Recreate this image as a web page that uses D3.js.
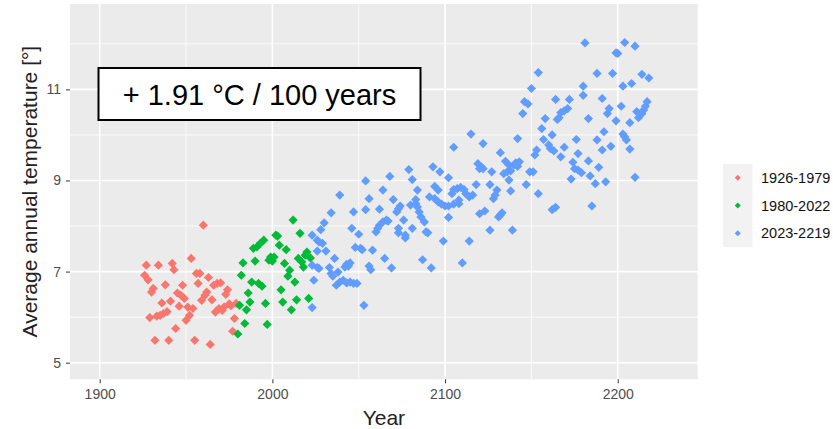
<!DOCTYPE html>
<html>
<head>
<meta charset="utf-8">
<script src="https://cdn.jsdelivr.net/npm/d3@7"></script>
<style>
  html, body { margin: 0; padding: 0; background: #ffffff; }
  svg { display: block; font-family: "Liberation Sans", Arial, sans-serif; }
</style>
</head>
<body>
<svg id="chart" width="833" height="429"></svg>
<script>
// ---------------- data ----------------
const seriesNames = ["1926-1979", "1980-2022", "2023-2219"];
const seriesColors = ["#F8766D", "#00BA38", "#619CFF"];

const redYears = d3.range(1926, 1980);
const redTemps = [6.92,7.14,6.82,5.99,6.55,6.63,5.49,6.02,7.14,6.04,
  6.31,6.08,6.71,6.12,5.49,6.35,7.18,7.04,5.75,6.53,
  6.24,6.48,6.70,6.41,5.93,6.22,6.04,7.29,6.19,5.49,
  6.96,6.74,6.96,6.37,8.02,6.48,6.55,6.87,5.40,6.38,
  6.70,6.11,6.74,6.19,6.75,6.15,6.22,6.50,6.60,6.29,
  6.25,5.69,5.97,6.30];

const greenYears = d3.range(1980, 2023);
const greenTemps = [5.63,6.26,6.92,7.19,5.86,6.16,6.53,6.33,6.77,7.51,
  7.23,7.54,6.74,7.62,6.68,7.69,6.30,5.84,7.25,7.32,
  7.23,7.32,7.80,7.78,7.58,6.60,6.33,7.18,7.48,6.90,
  7.03,6.16,8.13,6.77,6.38,7.29,7.84,7.21,7.10,7.36,
  7.43,6.41,7.30];

const blueYears = [2023,2023,2024,2023,2026,2027,2026,2027,2029,2026,
  2028,2030,2031,2034,2033,2034,2035,2036,2038,2037,
  2039,2041,2039,2042,2043,2045,2044,2043,2045,2047,
  2046,2047,2048,2051,2052,2049,2050,2053,2054,2054,
  2056,2056,2057,2058,2060,2061,2062,2064,2066,2067,
  2062,2064,2065,2068,2069,2070,2072,2073,2074,2073,
  2073,2076,2077,2077,2079,2080,2083,2083,2084,2085,
  2086,2081,2081,2084,2087,2088,2089,2090,2092,2091,
  2093,2094,2094,2096,2096,2097,2098,2099,2100,2102,
  2102,2102,2104,2105,2105,2105,2107,2108,2108,2109,
  2110,2111,2112,2114,2114,2115,2116,2118,2119,2120,
  2121,2122,2120,2123,2122,2126,2126,2127,2128,2129,
  2130,2131,2132,2133,2132,2134,2135,2137,2136,2137,
  2138,2138,2139,2140,2141,2142,2143,2142,2145,2146,
  2148,2147,2149,2151,2150,2152,2153,2154,2154,2156,
  2157,2158,2160,2161,2163,2162,2162,2164,2164,2165,
  2166,2167,2169,2171,2167,2169,2172,2173,2174,2175,
  2177,2179,2176,2177,2180,2180,2181,2183,2183,2184,
  2185,2187,2188,2188,2189,2191,2191,2192,2193,2194,
  2195,2196,2197,2199,2200,2199,2202,2203,2203,2204,
  2205,2204,2207,2207,2208,2210,2210,2211,2212,2214,
  2215,2216,2217,2214,2218];
const blueTemps = [7.80,6.21,6.81,7.14,7.09,7.07,7.69,7.65,7.62,7.45,
  7.92,8.07,7.45,8.29,7.09,6.96,6.90,7.29,6.99,6.70,
  6.77,6.81,8.68,7.10,7.16,7.19,7.12,6.75,6.77,6.74,
  7.95,8.31,7.53,7.51,7.48,6.74,7.82,6.26,8.36,8.99,
  8.60,7.12,7.04,7.47,7.87,7.95,8.02,8.09,8.13,8.11,
  8.37,8.79,7.29,9.09,7.08,8.58,8.31,8.38,8.44,7.95,
  7.85,8.13,7.80,7.74,9.24,8.46,8.58,8.49,8.42,8.31,
  8.20,7.95,9.02,8.79,7.26,8.09,7.87,7.85,7.08,8.64,
  9.30,8.60,8.87,8.79,8.53,9.19,8.48,7.67,8.44,8.44,
  8.19,9.06,8.71,8.80,8.48,9.73,8.82,8.49,8.57,8.85,
  7.19,8.80,8.71,7.67,8.64,10.02,8.68,8.91,9.37,9.26,
  9.30,9.26,8.27,8.33,9.81,8.91,7.91,9.19,8.60,8.68,
  8.79,8.20,8.24,8.29,9.61,9.15,9.42,9.34,9.19,9.01,
  8.77,9.21,7.91,9.34,9.39,9.31,9.41,9.92,10.47,10.73,
  10.68,8.91,9.19,9.19,11.02,9.56,9.67,8.71,11.37,10.14,
  9.90,10.36,9.78,9.70,9.65,10.00,8.36,8.41,10.78,10.34,
  10.38,10.49,10.53,10.58,9.52,9.73,10.78,9.03,9.40,9.26,
  9.23,9.17,9.90,9.59,10.87,11.07,12.02,9.43,10.36,9.10,
  8.44,8.93,11.35,9.89,9.29,9.67,10.80,10.07,8.97,10.47,
  10.58,9.75,11.35,11.80,11.79,10.31,10.63,11.07,10.02,9.96,
  9.89,12.03,10.27,9.69,11.13,11.95,9.07,10.51,10.38,10.47,
  10.55,10.63,10.73,11.33,11.25];

const xMajorTicks = [1900, 2000, 2100, 2200];
const xMinorTicks = [1950, 2050, 2150];
const yMajorTicks = [5, 7, 9, 11];
const yMinorTicks = [6, 8, 10, 12];

const annotationText = "+ 1.91 \u00B0C / 100 years";
const xTitle = "Year";
const yTitle = "Average annual temperature [\u00B0]";

// ---------------- layout ----------------
const panel = { left: 70, right: 697.7, top: 4, bottom: 379.3 };
const svg = d3.select("#chart");

const x = d3.scaleLinear().domain([1882.8, 2246.3]).range([panel.left, panel.right]);
const y = d3.scaleLinear().domain([4.635, 12.875]).range([panel.bottom, panel.top]);

// panel background
svg.append("rect")
  .attr("x", panel.left).attr("y", panel.top)
  .attr("width", panel.right - panel.left).attr("height", panel.bottom - panel.top)
  .attr("fill", "#EBEBEB");

const grid = svg.append("g");
// minor grid
grid.selectAll(".xminor").data(xMinorTicks).join("line")
  .attr("x1", d => x(d)).attr("x2", d => x(d))
  .attr("y1", panel.top).attr("y2", panel.bottom)
  .attr("stroke", "#fff").attr("stroke-width", 0.8);
grid.selectAll(".yminor").data(yMinorTicks).join("line")
  .attr("x1", panel.left).attr("x2", panel.right)
  .attr("y1", d => y(d)).attr("y2", d => y(d))
  .attr("stroke", "#fff").attr("stroke-width", 0.8);
// major grid
grid.selectAll(".xmajor").data(xMajorTicks).join("line")
  .attr("x1", d => x(d)).attr("x2", d => x(d))
  .attr("y1", panel.top).attr("y2", panel.bottom)
  .attr("stroke", "#fff").attr("stroke-width", 1.6);
grid.selectAll(".ymajor").data(yMajorTicks).join("line")
  .attr("x1", panel.left).attr("x2", panel.right)
  .attr("y1", d => y(d)).attr("y2", d => y(d))
  .attr("stroke", "#fff").attr("stroke-width", 1.6);

// axes
const xAxis = svg.append("g")
  .attr("transform", `translate(0,${panel.bottom})`)
  .call(d3.axisBottom(x).tickValues(xMajorTicks).tickFormat(d3.format("d")).tickSize(4).tickPadding(6));
const yAxis = svg.append("g")
  .attr("transform", `translate(${panel.left},0)`)
  .call(d3.axisLeft(y).tickValues(yMajorTicks).tickFormat(d3.format("d")).tickSize(4).tickPadding(5));
[xAxis, yAxis].forEach(a => {
  a.select(".domain").remove();
  a.selectAll(".tick line").attr("stroke", "#333333").attr("stroke-width", 1);
  a.selectAll(".tick text").attr("fill", "#4D4D4D")
    .style("font-size", "14px").style("font-family", "'Liberation Sans', Arial, sans-serif");
});

// points
const diamond = r => `M0,${-r}L${r},0L0,${r}L${-r},0Z`;
const series = [
  { years: redYears, temps: redTemps, color: seriesColors[0] },
  { years: greenYears, temps: greenTemps, color: seriesColors[1] },
  { years: blueYears, temps: blueTemps, color: seriesColors[2] }
];
const pts = svg.append("g");
series.forEach(s => {
  const data = s.years.map((yr, i) => ({ yr, t: s.temps[i] }));
  pts.selectAll(null).data(data).join("path")
    .attr("d", diamond(4.6))
    .attr("transform", d => `translate(${x(d.yr)},${y(d.t)})`)
    .attr("fill", s.color);
});

// annotation label
const ann = svg.append("g");
ann.append("rect")
  .attr("x", 98.5).attr("y", 68).attr("width", 322).attr("height", 52)
  .attr("fill", "#fff").attr("stroke", "#000").attr("stroke-width", 2);
ann.append("text")
  .attr("x", 259.5).attr("y", 104.5)
  .attr("text-anchor", "middle")
  .attr("fill", "#000")
  .style("font-size", "29px")
  .text(annotationText);

// axis titles
svg.append("text")
  .attr("x", (panel.left + panel.right) / 2).attr("y", 425)
  .attr("text-anchor", "middle").attr("fill", "#222")
  .style("font-size", "21px")
  .text(xTitle);
svg.append("text")
  .attr("transform", `translate(37,${(panel.top + panel.bottom) / 2}) rotate(-90)`)
  .attr("text-anchor", "middle").attr("fill", "#222")
  .style("font-size", "21px")
  .text(yTitle);

// legend
const legend = svg.append("g");
const keyH = 27.7, keyX = 723, keyW = 29.5, keyY = 164;
legend.append("rect")
  .attr("x", keyX).attr("y", keyY).attr("width", keyW).attr("height", keyH * seriesNames.length)
  .attr("fill", "#F2F2F2");
seriesNames.forEach((name, i) => {
  const cy = keyY + keyH * i + keyH / 2;
  legend.append("path")
    .attr("d", diamond(3))
    .attr("transform", `translate(${keyX + keyW / 2},${cy})`)
    .attr("fill", seriesColors[i]);
  legend.append("text")
    .attr("x", 761).attr("y", cy + 5)
    .attr("fill", "#111")
    .style("font-size", "14.5px")
    .text(name);
});
</script>
</body>
</html>
